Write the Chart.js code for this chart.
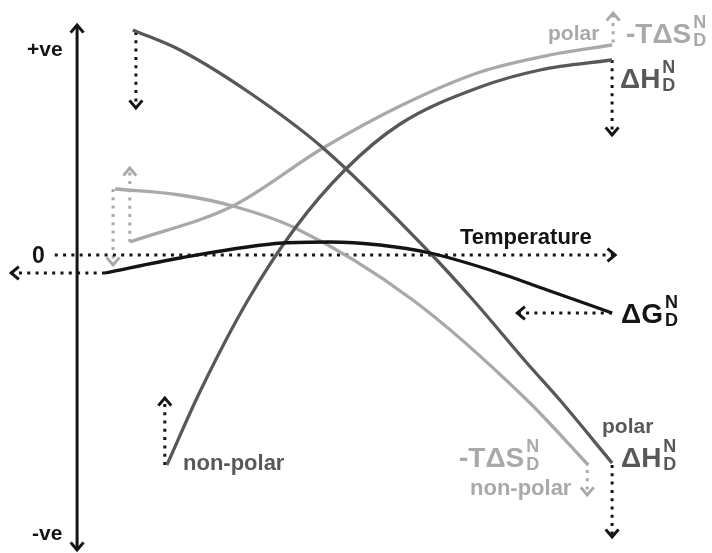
<!DOCTYPE html>
<html>
<head>
<meta charset="utf-8">
<script src="https://cdn.jsdelivr.net/npm/chart.js@4.4.0/dist/chart.umd.min.js"></script>
<style>
  body { margin: 0; background: #fff; }
  #wrap { width: 712px; height: 553px; }
</style>
</head>
<body>
<div id="wrap"><canvas id="myChart" width="712" height="553"></canvas></div>
<script>
// temperature (arbitrary units) and energy (arbitrary units, 0 = zero line)
const hPolarT = [5.5, 14.8, 28.6, 43.0, 64.1, 72.6, 83.2, 89.7, 100];
const hPolarE = [90, 82, 64.8, 42.8, 0.8, -18, -43.2, -58, -83.2];

const hNonPolarT = [12.2, 18.7, 28.2, 37.5, 47.3, 58.2, 74.0, 85.8, 100];
const hNonPolarE = [-84, -54.8, -18, 10.8, 34, 52.4, 67.2, 74, 78];

const sPolarT = [4.9, 25.2, 43.0, 58.2, 74.0, 87.7, 100];
const sPolarE = [5.2, 19.6, 42.8, 59.6, 73.2, 80, 84];

const sNonPolarT = [2.0, 14.8, 25.2, 37.5, 60.7, 83.2, 95.3];
const sNonPolarE = [26.4, 24, 19.6, 10.8, -18, -58, -84];

const gT = [0, 14.8, 35.1, 44.4, 54.2, 64.1, 75.9, 87.2, 100];
const gE = [-7.2, -1.2, 4.8, 5.2, 4, 0.8, -6, -14, -23.2];

// dotted arrows: [from, to] in the same units
const zeroLine = [[-9.9, 0], [100.6, 0]];
const gStartArrow = [[0, -7.2], [-18.5, -7.2]];
const energyAxis = [[-5.5, -118], [-5.5, 92]];
const hPolarShift = [[6.1, 89.2], [6.1, 58.8]];
const sPolarShift = [[4.9, 5.2], [4.9, 34.8]];
const sNonPolarShift = [[1.6, 26.4], [1.6, -4]];
const hNonPolarShift = [[11.8, -84], [11.8, -57.2]];
const hNonPolarEndShift = [[100, 78], [100, 48]];
const sPolarEndShift = [[100.2, 85], [100.2, 96.8]];
const gEndShift = [[100, -23.2], [81.3, -23.2]];
const hPolarEndShift = [[100, -84], [100, -112.8]];
const sNonPolarEndShift = [[95.1, -86], [95.1, -96]];

const BLACK = '#141414', DARK = '#585858', LIGHT = '#a9a9a9';

const pts = (T, E) => T.map((t, i) => ({x: t, y: E[i]}));
const seg = a => a.map(p => ({x: p[0], y: p[1]}));

function curve(T, E, color) {
  return {data: pts(T, E), borderColor: color, borderWidth: 3.3,
          cubicInterpolationMode: 'monotone', pointRadius: 0, fill: false};
}
function arrow(a, color, dotted, both) {
  return {data: seg(a), borderColor: color, borderWidth: 3,
          borderDash: dotted ? [3, 5.3] : [], pointRadius: 0, fill: false,
          arrowHead: true, arrowBoth: !!both};
}

const datasets = [
  curve(gT, gE, BLACK),
  curve(hPolarT, hPolarE, DARK),
  curve(hNonPolarT, hNonPolarE, DARK),
  curve(sPolarT, sPolarE, LIGHT),
  curve(sNonPolarT, sNonPolarE, LIGHT),
  arrow(energyAxis, BLACK, false, true),
  arrow(zeroLine, BLACK, true),
  arrow(gStartArrow, BLACK, true),
  arrow(hPolarShift, BLACK, true),
  arrow(sPolarShift, LIGHT, true),
  arrow(sNonPolarShift, LIGHT, true),
  arrow(hNonPolarShift, BLACK, true),
  arrow(hNonPolarEndShift, BLACK, true),
  arrow(sPolarEndShift, LIGHT, true),
  arrow(gEndShift, BLACK, true),
  arrow(hPolarEndShift, BLACK, true),
  arrow(sNonPolarEndShift, LIGHT, true),
];

function chevron(ctx, p0, p1, color) {
  const a = Math.atan2(p1.y - p0.y, p1.x - p0.x);
  const len = 10, spread = 0.7;
  ctx.save();
  ctx.strokeStyle = color;
  ctx.lineWidth = 3;
  ctx.lineJoin = 'miter';
  ctx.beginPath();
  ctx.moveTo(p1.x - len * Math.cos(a - spread), p1.y - len * Math.sin(a - spread));
  ctx.lineTo(p1.x, p1.y);
  ctx.lineTo(p1.x - len * Math.cos(a + spread), p1.y - len * Math.sin(a + spread));
  ctx.stroke();
  ctx.restore();
}

const FONT = '"Liberation Sans", Arial, sans-serif';

function sym(ctx, main, x, base, color) {
  ctx.fillStyle = color;
  ctx.font = 'bold 28px ' + FONT;
  ctx.fillText(main, x, base);
  const w = ctx.measureText(main).width;
  ctx.font = 'bold 18px ' + FONT;
  ctx.fillText('N', x + w + 2, base - 15);
  ctx.fillText('D', x + w + 2, base + 3);
}
function word(ctx, txt, x, base, color, size) {
  ctx.fillStyle = color;
  ctx.font = 'bold ' + (size || 21) + 'px ' + FONT;
  ctx.fillText(txt, x, base);
}

const decor = {
  id: 'decor',
  afterDatasetsDraw(chart) {
    const ctx = chart.ctx;
    chart.data.datasets.forEach((ds, i) => {
      if (!ds.arrowHead) return;
      const els = chart.getDatasetMeta(i).data;
      const p0 = els[0], p1 = els[els.length - 1];
      chevron(ctx, p0, p1, ds.borderColor);
      if (ds.arrowBoth) chevron(ctx, p1, p0, ds.borderColor);
    });
    ctx.save();
    ctx.textBaseline = 'alphabetic';
    word(ctx, '+ve', 27, 56, BLACK);
    word(ctx, '-ve', 32, 540, BLACK);
    word(ctx, '0', 32, 263, BLACK, 23);
    word(ctx, 'Temperature', 460, 244, BLACK, 22);
    word(ctx, 'polar', 548, 40, LIGHT);
    sym(ctx, '-T\u0394S', 626, 43, LIGHT);
    sym(ctx, '\u0394H', 620, 88, DARK);
    sym(ctx, '\u0394G', 621, 323, BLACK);
    word(ctx, 'polar', 602, 433, DARK);
    sym(ctx, '\u0394H', 621, 467, DARK);
    sym(ctx, '-T\u0394S', 459, 467, LIGHT);
    word(ctx, 'non-polar', 470, 495, LIGHT, 22);
    word(ctx, 'non-polar', 183, 470, DARK, 22);
    ctx.restore();
  }
};

const myChart = new Chart(document.getElementById('myChart'), {
  type: 'line',
  data: {datasets: datasets},
  options: {
    responsive: false,
    animation: false,
    layout: {padding: 0},
    plugins: {legend: {display: false}, tooltip: {enabled: false}},
    scales: {
      x: {type: 'linear', min: -20.7, max: 119.7, display: false},
      y: {type: 'linear', min: -119.2, max: 102, display: false}
    }
  },
  plugins: [decor]
});
</script>
</body>
</html>
